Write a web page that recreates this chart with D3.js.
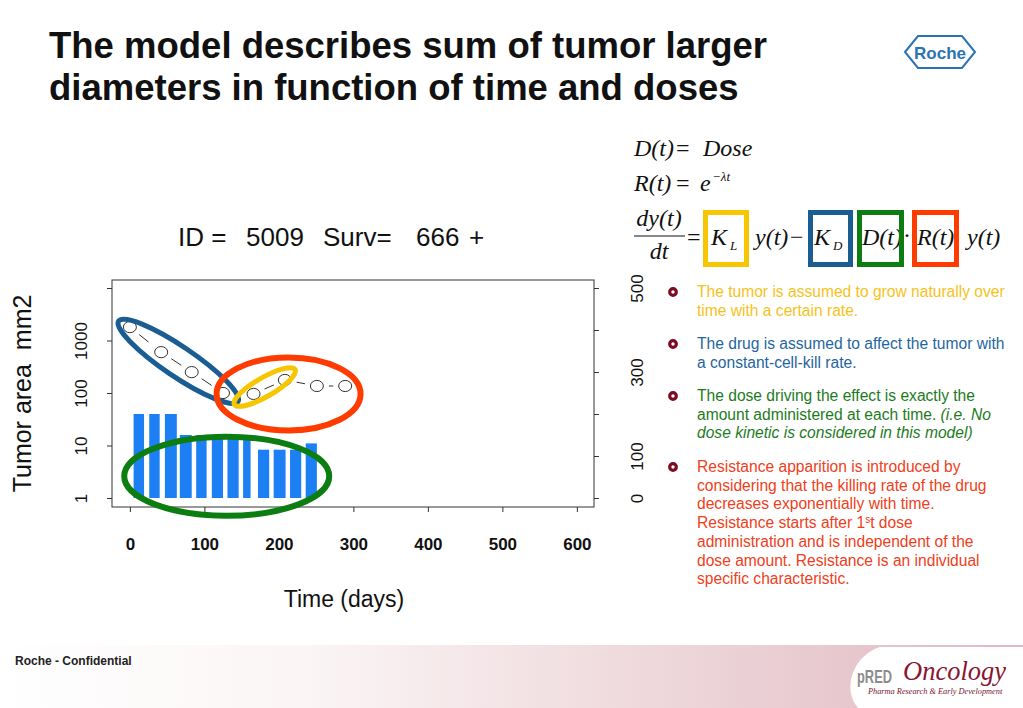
<!DOCTYPE html>
<html>
<head>
<meta charset="utf-8">
<script src="https://cdn.jsdelivr.net/npm/d3@7"></script>
<style>
  body { margin: 0; background: #fff; }
  svg { display: block; font-family: "Liberation Sans", Arial, sans-serif; }
</style>
</head>
<body>
<div class="displayArea"></div>
<script>
// observed tumour size (mm2) per day
const obsDays = [0, 42, 83, 125, 166, 208, 251, 289];
const obsSize = [1800, 600, 250, 100, 96, 177, 136, 136];

// dose administrations: start day, duration (days), amount
const doseDays = [5, 26, 47, 67, 89, 110, 131, 152, 172, 193, 215, 236];
const doseLen = [14, 14, 16, 16, 14, 15, 15, 10, 15, 16, 15, 15];
const doseAmt = [200, 200, 200, 150, 150, 150, 150, 150, 115, 115, 115, 130];

// ticks
const xTicks = [0, 100, 200, 300, 400, 500, 600];
const yTicks = [1, 10, 100, 1000, 10000];
const yTickLabels = ["1", "10", "100", "1000", ""];
const doseTicks = [0, 100, 200, 300, 400, 500];
const doseTickLabels = ["0", "100", "", "300", "", "500"];

// chart header pieces
const headerParts = ["ID =", "5009", "Surv=", "666", "+"];
const headerX = [178, 246, 323, 416, 469];

// bullet texts
const bullets = [
  { color: "#f5c21b", lines: [["The tumor is assumed to grow naturally over"], ["time with a certain rate."]] },
  { color: "#1f66a0", lines: [["The drug is assumed to affect the tumor with"], ["a constant-cell-kill rate."]] },
  { color: "#1d7b1d", lines: [["The dose driving the effect is exactly the"],
                              ["amount administered at each time. ", "(i.e. No"],
                              ["", "dose kinetic is considered in this model)"]] },
  { color: "#f04020", lines: [["Resistance apparition is introduced by"],
                              ["considering that the killing rate of the drug"],
                              ["decreases exponentially with time."],
                              ["Resistance starts after 1", "s", "t dose"],
                              ["administration and is independent of the"],
                              ["dose amount. Resistance is an individual"],
                              ["specific characteristic."]] }
];

const svg = d3.select(".displayArea").append("svg")
    .attr("width", 1023)
    .attr("height", 708);

// ---- footer band
const defs = svg.append("defs");
const grad = defs.append("linearGradient").attr("id", "foot")
    .attr("x1", 0).attr("x2", 1).attr("y1", 0).attr("y2", 0);
grad.append("stop").attr("offset", 0).attr("stop-color", "#ffffff");
grad.append("stop").attr("offset", 0.3).attr("stop-color", "#fbf5f5");
grad.append("stop").attr("offset", 1).attr("stop-color", "#e0b9c1");

svg.append("rect")
    .attr("x", 0).attr("y", 645).attr("width", 1023).attr("height", 63)
    .attr("fill", "url(#foot)");
svg.append("path")
    .attr("d", "M880,647 C852,656 842,690 858,708 L1023,708 L1023,647 Z")
    .attr("fill", "#fff");

svg.append("text")
    .attr("x", 15).attr("y", 665)
    .attr("font-size", 12).attr("font-weight", "bold").attr("fill", "#222")
    .text("Roche - Confidential");

// pRED Oncology logo
svg.append("text")
    .attr("x", 857).attr("y", 683)
    .attr("font-size", 18).attr("font-weight", "bold").attr("fill", "#8c8c8c")
    .attr("textLength", 35).attr("lengthAdjust", "spacingAndGlyphs")
    .text("pRED");
svg.append("text")
    .attr("x", 903).attr("y", 680)
    .attr("font-family", "'Liberation Serif', 'Times New Roman', serif")
    .attr("font-style", "italic")
    .attr("font-size", 26.5).attr("fill", "#8a1533")
    .text("Oncology");
svg.append("text")
    .attr("x", 868).attr("y", 694)
    .attr("font-family", "'Liberation Serif', 'Times New Roman', serif")
    .attr("font-style", "italic")
    .attr("font-size", 8.3).attr("fill", "#7a1530")
    .text("Pharma Research & Early Development");

// ---- Roche logo
svg.append("path")
    .attr("d", "M905,52 L918,36 L962,36 L975,52 L962,68 L918,68 Z")
    .attr("fill", "#fff").attr("stroke", "#2a74b6").attr("stroke-width", 2);
svg.append("text")
    .attr("x", 940).attr("y", 59)
    .attr("text-anchor", "middle")
    .attr("font-size", 17).attr("font-weight", "bold").attr("fill", "#2a74b6")
    .text("Roche");

// ---- slide title
const title = svg.append("text")
    .attr("font-size", 36.5).attr("font-weight", "bold").attr("fill", "#111");
title.append("tspan").attr("x", 49).attr("y", 58).text("The model describes sum of tumor larger");
title.append("tspan").attr("x", 49).attr("y", 100).text("diameters in function of time and doses");

// ---- chart
const x = d3.scaleLinear().domain([-24, 623]).range([112, 594]);
const yLog = d3.scaleLog().domain([1, 10000]).range([498, 288]);
const yDose = d3.scaleLinear().domain([0, 500]).range([498, 288]);
const plotTop = 280, plotBottom = 507;

const chart = svg.append("g").attr("class", "chart");

chart.selectAll(".hdr")
    .data(headerParts)
    .enter()
    .append("text")
    .attr("class", "hdr")
    .attr("x", (d, i) => headerX[i]).attr("y", 246)
    .attr("font-size", 26).attr("fill", "#111")
    .text(d => d);

// dose bars
chart.selectAll(".dose")
    .data(doseDays)
    .enter()
    .append("rect")
    .attr("class", "dose")
    .attr("x", d => x(d))
    .attr("width", (d, i) => x(d + doseLen[i]) - x(d))
    .attr("y", (d, i) => yDose(doseAmt[i]))
    .attr("height", (d, i) => yDose(0) - yDose(doseAmt[i]))
    .attr("fill", "#1c80f4");

// plot box
chart.append("rect")
    .attr("x", x.range()[0]).attr("y", plotTop)
    .attr("width", x.range()[1] - x.range()[0])
    .attr("height", plotBottom - plotTop)
    .attr("fill", "none").attr("stroke", "#333").attr("stroke-width", 1);

// axes
const xAxis = chart.append("g")
    .attr("transform", `translate(0,${plotBottom})`)
    .call(d3.axisBottom(x).tickValues(xTicks).tickSize(5).tickPadding(26).tickFormat(d3.format("d")));
xAxis.select(".domain").remove();
xAxis.selectAll("text")
    .attr("font-size", 17).attr("font-weight", "bold").attr("fill", "#111")
    .attr("font-family", "'Liberation Sans', Arial, sans-serif");

const yAxis = chart.append("g")
    .attr("transform", `translate(${x.range()[0]},0)`)
    .call(d3.axisLeft(yLog).tickValues(yTicks).tickSize(5).tickFormat((d, i) => yTickLabels[i]));
yAxis.select(".domain").remove();
yAxis.selectAll("text")
    .attr("transform", "rotate(-90)")
    .attr("x", 0).attr("y", -25).attr("dy", 0)
    .attr("text-anchor", "middle")
    .attr("font-size", 17).attr("fill", "#111")
    .attr("font-family", "'Liberation Sans', Arial, sans-serif");

const dAxis = chart.append("g")
    .attr("transform", `translate(${x.range()[1]},0)`)
    .call(d3.axisRight(yDose).tickValues(doseTicks).tickSize(5).tickFormat((d, i) => doseTickLabels[i]));
dAxis.select(".domain").remove();
dAxis.selectAll("text")
    .attr("transform", "rotate(-90)")
    .attr("x", 0).attr("y", 49).attr("dy", 0)
    .attr("text-anchor", "middle")
    .attr("font-size", 17).attr("fill", "#111")
    .attr("font-family", "'Liberation Sans', Arial, sans-serif");

chart.selectAll(".tick line").attr("stroke", "#333");

chart.append("text")
    .attr("x", 344).attr("y", 607)
    .attr("text-anchor", "middle")
    .attr("font-size", 23).attr("fill", "#111")
    .text("Time (days)");

chart.append("text")
    .attr("transform", `translate(31,${(plotTop + plotBottom) / 2}) rotate(-90)`)
    .attr("text-anchor", "middle")
    .attr("font-size", 25).attr("fill", "#111")
    .style("white-space", "pre")
    .text("Tumor area  mm2");

// observations: dashed segments with gaps (type = "b")
const pts = obsDays.map((d, i) => [x(d), yLog(obsSize[i])]);
const gap = 12;
const segs = d3.pairs(pts).map(([a, b]) => {
    const dx = b[0] - a[0], dy = b[1] - a[1];
    const len = Math.hypot(dx, dy);
    return { len, x1: a[0] + dx / len * gap, y1: a[1] + dy / len * gap,
             x2: b[0] - dx / len * gap, y2: b[1] - dy / len * gap };
}).filter(s => s.len > 2 * gap);

chart.selectAll(".seg")
    .data(segs)
    .enter()
    .append("line")
    .attr("class", "seg")
    .attr("x1", d => d.x1).attr("y1", d => d.y1)
    .attr("x2", d => d.x2).attr("y2", d => d.y2)
    .attr("stroke", "#333").attr("stroke-width", 1)
    .attr("stroke-dasharray", "12,8");

chart.selectAll(".obs")
    .data(pts)
    .enter()
    .append("ellipse")
    .attr("class", "obs")
    .attr("cx", d => d[0]).attr("cy", d => d[1])
    .attr("rx", 6.5).attr("ry", 5.6)
    .attr("fill", "none").attr("stroke", "#333").attr("stroke-width", 1);

// annotation ellipses (anchored in data space)
const notes = [
    { day: 65, val: 400, rx: 72, ry: 15, rot: 34, color: "#1a5d92", w: 5 },
    { day: 181, val: 130, rx: 35, ry: 9.5, rot: -30, color: "#f7c600", w: 5 },
    { day: 213, val: 96, rx: 72, ry: 36.5, rot: 0, color: "#ff3b00", w: 6 },
    { day: 130, val: 2.6, rx: 102.5, ry: 39.5, rot: 0, color: "#0c7d10", w: 6 }
];
chart.selectAll(".note")
    .data(notes)
    .enter()
    .append("ellipse")
    .attr("class", "note")
    .attr("transform", d => `translate(${x(d.day)},${yLog(d.val)}) rotate(${d.rot})`)
    .attr("rx", d => d.rx).attr("ry", d => d.ry)
    .attr("fill", "none")
    .attr("stroke", d => d.color)
    .attr("stroke-width", d => d.w);

// ---- equations
const serif = "'Liberation Serif', 'Times New Roman', serif";
const eq = svg.append("g").attr("font-family", serif).attr("fill", "#111").attr("font-size", 24);

function put(str, px, py, opts = {}) {
    return eq.append("text")
        .attr("x", px).attr("y", py)
        .attr("font-style", opts.upright ? "normal" : "italic")
        .attr("font-size", opts.size || 24)
        .attr("text-anchor", opts.anchor || "start")
        .text(str);
}

put("D(t)", 634, 156);
put("=", 676, 156, { upright: true });
put("Dose", 703, 156);

put("R(t)", 634, 191);
put("=", 676, 191, { upright: true });
put("e", 700, 191);
put("\u2212\u03bbt", 712, 181, { size: 13 });

put("dy(t)", 659, 226, { anchor: "middle" });
eq.append("line").attr("x1", 634).attr("x2", 685).attr("y1", 236).attr("y2", 236)
    .attr("stroke", "#111").attr("stroke-width", 1.2);
put("dt", 659, 259, { anchor: "middle" });

put("=", 687, 245, { upright: true });
put("K", 711, 245);
put("L", 730, 250, { size: 13 });
put("y(t)\u2212", 755, 245);
put("K", 814, 245);
put("D", 833, 250, { size: 13 });
put("D(t)", 862, 245);
put("\u00b7", 903, 243, { upright: true });
put("R(t)", 917, 245);
put("y(t)", 967, 245);

const boxes = [
    { x: 705.5, w: 41, color: "#f7c600" },
    { x: 810.5, w: 40, color: "#1a5d92" },
    { x: 859.5, w: 42, color: "#0c7d10" },
    { x: 914.5, w: 42, color: "#ff3b00" }
];
eq.selectAll(".box")
    .data(boxes)
    .enter()
    .append("rect")
    .attr("class", "box")
    .attr("x", d => d.x).attr("y", 212.5)
    .attr("width", d => d.w).attr("height", 52)
    .attr("fill", "none")
    .attr("stroke", d => d.color)
    .attr("stroke-width", 5);

// ---- bullets
const bulletStart = [297, 349, 401, 472];
const lineH = 18.7;
const bl = svg.append("g").attr("font-size", 15.6);

bullets.forEach((b, i) => {
    const y0 = bulletStart[i];
    bl.append("circle")
        .attr("cx", 673).attr("cy", y0 - 5)
        .attr("r", 3.3)
        .attr("fill", "#fff").attr("stroke", "#7b0c26").attr("stroke-width", 3.2);
    b.lines.forEach((ln, j) => {
        const t = bl.append("text")
            .attr("x", 697).attr("y", y0 + j * lineH)
            .attr("fill", b.color)
            .style("white-space", "pre");
        if (i === 2) {
            t.append("tspan").text(ln[0]);
            if (ln[1]) t.append("tspan").attr("font-style", "italic").text(ln[1]);
        } else if (ln.length === 3) {
            t.append("tspan").text(ln[0]);
            t.append("tspan").attr("font-size", 10).attr("dy", -5).text(ln[1]);
            t.append("tspan").attr("dy", 5).text(ln[2]);
        } else {
            t.text(ln[0]);
        }
    });
});
</script>
</body>
</html>
